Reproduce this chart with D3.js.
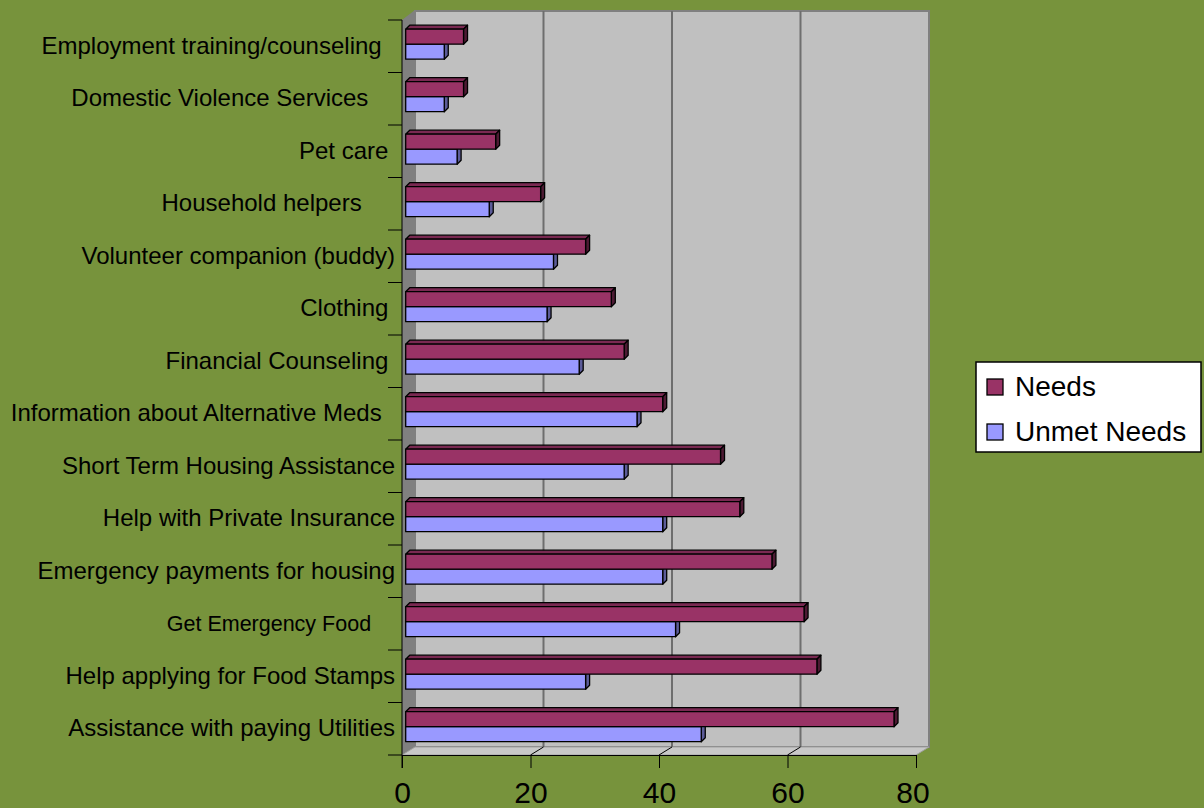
<!DOCTYPE html>
<html>
<head>
<meta charset="utf-8">
<script src="https://cdn.jsdelivr.net/npm/d3@7"></script>
<style>
  html, body { margin: 0; padding: 0; background: #77933c; }
  svg { display: block; }
  text { font-family: "Liberation Sans", Arial, sans-serif; fill: #000; }
</style>
</head>
<body>
<svg id="chart" width="1204" height="808"></svg>
<script>
// Service categories, listed top to bottom as drawn
const categories = [
  "Employment training/counseling  ",
  "Domestic Violence Services    ",
  "Pet care ",
  "Household helpers     ",
  "Volunteer companion (buddy)",
  "Clothing ",
  "Financial Counseling ",
  "Information about Alternative Meds  ",
  "Short Term Housing Assistance",
  "Help with Private Insurance",
  "Emergency payments for housing",
  "Get Emergency Food    ",
  "Help applying for Food Stamps",
  "Assistance with paying Utilities"
];
const needs      = [9, 9, 14, 21, 28, 32, 34, 40, 49, 52, 57, 62, 64, 76];
const unmetNeeds = [6, 6, 8, 13, 23, 22, 27, 36, 34, 40, 40, 42, 28, 46];
const seriesNames = ["Needs", "Unmet Needs"];
const valueTicks = [0, 20, 40, 60, 80];

const colors = {
  "Needs":       { front: "#993366", top: "#7a2952", side: "#4d1a33" },
  "Unmet Needs": { front: "#9999ff", top: "#7a7acc", side: "#5c5c99" }
};
const smallLabels = new Set(["Get Emergency Food    "]);

const svg = d3.select("#chart");

// Plot frame: front axes, plus an oblique depth offset for the 3-D walls
const plotLeft = 402, plotRight = 916, plotTop = 20, plotBottom = 755;
const depth = { dx: 13, dy: -8 };      // wall depth
const barDepth = { dx: 4, dy: -4 };    // bar thickness
const barShift = 3.7;                  // bars sit slightly behind the front plane

const x = d3.scaleLinear().domain([0, 80]).range([plotLeft, plotRight]);
const y = d3.scaleBand().domain(categories).range([plotTop, plotBottom]);
const inner = d3.scaleBand().domain(seriesNames).range([9.2, 39.2]);

// Walls
const walls = svg.append("g");
walls.append("polygon")      // left side wall
  .attr("points", [[plotLeft, plotTop], [plotLeft + depth.dx, plotTop + depth.dy - 2],
                   [plotLeft + depth.dx, plotBottom + depth.dy], [plotLeft, plotBottom]].join(" "))
  .attr("fill", "#808080");
walls.append("rect")         // back wall
  .attr("x", plotLeft + depth.dx).attr("y", plotTop + depth.dy - 1)
  .attr("width", plotRight - plotLeft).attr("height", plotBottom - plotTop + 1)
  .attr("fill", "#c0c0c0").attr("stroke", "#808080").attr("stroke-width", 2);
walls.append("polygon")      // floor
  .attr("points", [[plotLeft, plotBottom], [plotLeft + depth.dx, plotBottom + depth.dy],
                   [plotRight + depth.dx, plotBottom + depth.dy], [plotRight, plotBottom]].join(" "))
  .attr("fill", "#c8c8c8").attr("stroke", "#a0a0a0").attr("stroke-width", 1);

// Gridlines on the back wall and across the floor
const grid = svg.append("g");
valueTicks.filter(v => v > 0 && v < 80).forEach(v => {
  grid.append("line")
    .attr("x1", x(v) + depth.dx).attr("x2", x(v) + depth.dx)
    .attr("y1", plotTop + depth.dy - 1).attr("y2", plotBottom + depth.dy)
    .attr("stroke", "#6e6e6e").attr("stroke-width", 2);
  grid.append("line")
    .attr("x1", x(v)).attr("y1", plotBottom)
    .attr("x2", x(v) + depth.dx).attr("y2", plotBottom + depth.dy)
    .attr("stroke", "#000").attr("stroke-width", 1);
});

// Bars: front face, top face and right side face
const rows = categories.map((c, i) => ({ cat: c, values: [
  { series: "Unmet Needs", value: unmetNeeds[i] },
  { series: "Needs", value: needs[i] }
]}));

const barG = svg.append("g");
rows.forEach(row => {
  row.values.forEach(d => {
    const x0 = x(0) + barShift, x1 = x(d.value) + barShift;
    const y0 = y(row.cat) + inner(d.series), h = inner.bandwidth();
    const c = colors[d.series];
    const g = barG.append("g")
      .attr("stroke", "#000").attr("stroke-width", 1.3).attr("stroke-linejoin", "round");
    g.append("polygon")
      .attr("points", [[x0, y0], [x0 + barDepth.dx, y0 + barDepth.dy],
                       [x1 + barDepth.dx, y0 + barDepth.dy], [x1, y0]].join(" "))
      .attr("fill", c.top);
    g.append("polygon")
      .attr("points", [[x1, y0], [x1 + barDepth.dx, y0 + barDepth.dy],
                       [x1 + barDepth.dx, y0 + h + barDepth.dy], [x1, y0 + h]].join(" "))
      .attr("fill", c.side);
    g.append("rect")
      .attr("x", x0).attr("y", y0).attr("width", x1 - x0).attr("height", h)
      .attr("fill", c.front);
  });
});

// Category axis
const yAxis = svg.append("g").attr("transform", `translate(${plotLeft},0)`)
  .call(d3.axisLeft(y).tickSize(0).tickPadding(7));
yAxis.select(".domain").remove();
yAxis.selectAll("text")
  .attr("font-family", null)
  .style("white-space", "pre")
  .style("font-size", d => smallLabels.has(d) ? "21.5px" : "24px");
yAxis.append("line")
  .attr("x1", 0).attr("x2", 0).attr("y1", plotTop).attr("y2", plotBottom + 13)
  .attr("stroke", "#000");
d3.range(categories.length + 1).forEach(i => {
  yAxis.append("line")
    .attr("x1", -14).attr("x2", 0)
    .attr("y1", plotTop + i * y.step()).attr("y2", plotTop + i * y.step())
    .attr("stroke", "#000");
});

// Value axis
const xAxis = svg.append("g").attr("transform", `translate(0,${plotBottom})`)
  .call(d3.axisBottom(x).tickValues(valueTicks).tickSize(13).tickPadding(14).tickSizeOuter(0));
xAxis.select(".domain").attr("stroke", "#000");
xAxis.selectAll("text")
  .attr("font-family", null)
  .attr("dx", d => d === 80 ? "-0.12em" : null)
  .style("font-size", "30px");

// Legend
const legend = svg.append("g").attr("transform", "translate(976,362)");
legend.append("rect")
  .attr("width", 225).attr("height", 90)
  .attr("fill", "#fff").attr("stroke", "#000").attr("stroke-width", 1.5);
seriesNames.forEach((s, i) => {
  const row = legend.append("g").attr("transform", `translate(11,${17 + i * 45})`);
  row.append("rect").attr("width", 16).attr("height", 16)
    .attr("fill", colors[s].front).attr("stroke", "#000").attr("stroke-width", 1.3);
  row.append("text").attr("x", 28).attr("y", 17)
    .style("font-size", "28px").text(s);
});
</script>
</body>
</html>
